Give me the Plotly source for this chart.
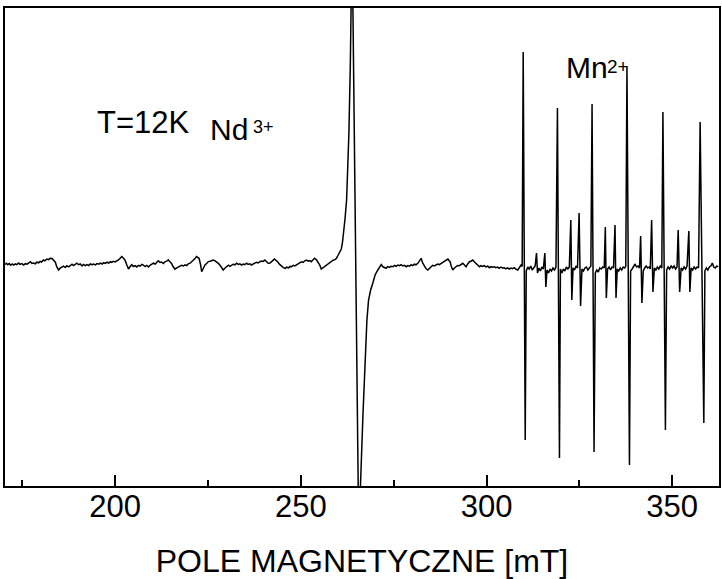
import plotly.graph_objects as go

# EPR spectrum at T = 12 K: field in mT, signal in arbitrary units (baseline ~ 0)

# low-field baseline up to the Nd3+ resonance
baseline_low = [
    (170.3, 0.5), (170.7, 1.7), (171.1, 0.3), (171.5, 1.5), (171.9, -0.3), (172.3, 1.0),
    (172.7, 0.0), (173.1, 1.2), (173.5, 0.4), (174.0, 1.9), (174.4, 0.6), (174.9, 1.4),
    (175.4, 0.0), (175.8, 1.3), (176.3, 0.8), (176.8, 2.6), (177.2, 3.3), (177.6, 1.6),
    (178.0, 2.0), (178.5, 1.2), (178.9, 2.8), (179.4, 2.2), (179.8, 3.6), (180.2, 3.0),
    (180.7, 5.0), (181.1, 4.2), (181.6, 6.0), (182.1, 5.4), (182.5, 6.8), (183.0, 6.5),
    (183.4, 4.5), (183.9, 2.8), (184.3, -2.0), (184.8, -5.0), (185.2, -3.2), (185.7, -2.4),
    (186.1, -1.2), (186.6, -2.5), (187.0, -0.8), (187.5, -1.8), (187.9, -0.5), (188.4, 0.8),
    (188.8, -0.6), (189.3, 1.4), (189.7, 1.9), (190.2, 0.3), (190.6, 1.0), (191.1, -0.9),
    (191.5, 0.5), (192.0, -0.6), (192.4, 0.4), (192.9, -0.5), (193.3, 1.0), (193.8, 0.2),
    (194.2, 0.9), (194.7, 0.1), (195.1, 1.4), (195.6, 0.8), (196.0, 1.9), (196.5, 1.0),
    (196.9, 2.3), (197.4, 1.6), (197.8, 2.8), (198.3, 2.0), (198.7, 3.3), (199.1, 2.6),
    (199.5, 3.6), (200.0, 3.0), (200.4, 4.4), (200.9, 5.2), (201.3, 6.5), (201.8, 8.5),
    (202.2, 7.0), (202.7, 4.6), (203.1, 0.5), (203.6, -4.0), (204.0, -1.8), (204.5, 0.3),
    (204.9, -1.5), (205.4, -0.6), (205.8, -1.9), (206.3, -0.4), (206.7, -1.2), (207.2, 0.6),
    (207.6, -0.2), (208.1, -1.5), (208.5, -0.5), (209.0, -1.9), (209.4, -0.3), (209.9, 0.6),
    (210.3, 1.8), (210.8, 1.0), (211.2, 3.0), (211.6, 4.2), (212.1, 2.6), (212.5, 2.9),
    (213.0, 1.5), (213.4, 3.2), (213.9, 3.8), (214.3, 5.2), (214.7, 3.5), (215.2, 1.5),
    (215.6, -1.5), (216.1, -4.2), (216.6, -2.8), (217.0, -2.0), (217.5, -1.5), (217.9, -0.4),
    (218.4, -1.0), (218.8, 0.2), (219.3, -0.5), (219.7, 1.2), (220.2, 1.8), (220.6, 3.0),
    (221.0, 5.0), (221.5, 6.4), (221.9, 8.4), (222.3, 7.8), (222.6, 6.7), (223.0, 0.5),
    (223.3, -6.7), (223.8, -3.0), (224.2, 0.0), (224.7, 1.8), (225.1, 3.4), (225.6, 3.8),
    (226.0, 4.4), (226.4, 5.0), (226.9, 4.2), (227.3, 3.3), (227.8, 1.6), (228.2, 0.0),
    (228.7, -2.8), (229.1, -5.0), (229.6, -3.0), (230.0, -1.7), (230.5, -0.2), (230.9, -1.4),
    (231.4, -0.6), (231.8, 0.8), (232.3, 0.2), (232.7, 1.8), (233.2, 0.6), (233.6, 1.2),
    (234.0, -0.1), (234.5, 1.0), (234.9, 0.4), (235.4, 1.8), (235.8, 0.6), (236.3, 1.1),
    (236.7, 0.0), (237.2, 1.3), (237.6, 1.9), (238.1, 2.7), (238.5, 2.0), (239.0, 3.3),
    (239.4, 4.0), (239.9, 3.6), (240.3, 5.0), (240.8, 3.2), (241.2, 1.7), (241.7, 2.0),
    (242.1, 3.0), (242.5, 4.6), (242.9, 6.0), (243.4, 4.8), (243.8, 3.0), (244.3, 0.6),
    (244.9, -1.8), (245.3, -2.6), (245.8, -3.4), (246.2, -2.2), (246.7, -2.9), (247.1, -1.4),
    (247.5, -1.7), (248.0, -0.4), (248.4, -1.0), (248.8, 0.2), (249.3, 1.0), (249.8, 2.4),
    (250.2, 3.2), (250.6, 2.6), (251.1, 4.2), (251.5, 5.0), (252.0, 3.8), (252.4, 4.4),
    (252.8, 3.3), (253.3, 5.0), (253.7, 6.8), (254.2, 5.2), (254.6, 3.3), (255.1, 0.0),
    (255.5, -4.0), (256.0, -2.6), (256.5, -1.2), (256.9, 0.0), (257.4, 0.6), (257.8, 1.7),
    (258.3, 3.0), (258.7, 4.8), (259.2, 5.4), (259.6, 6.8), (260.0, 9.5), (260.45, 13.3),
]

# Nd3+ derivative line (both lobes run off scale)
nd_line = [
    (260.9, 16.0), (261.2, 22.0), (261.52, 32.0), (261.9, 46.0), (262.33, 65.0),
    (262.65, 95.0), (262.95, 132.0), (263.32, 198.0), (263.81, 330.0), (265.69, -300.0),
    (266.09, -218.0), (266.71, -152.0), (267.35, -85.0), (267.8, -55.0), (268.24, -35.0),
    (268.8, -25.0), (269.4, -18.0), (270.0, -10.0), (270.74, -5.0), (271.2, -2.0),
    (271.65, 0.5),
]

# baseline between the Nd3+ line and the Mn2+ sextet
baseline_mid = [
    (272.1, -1.8), (272.5, -2.8), (273.0, -3.3), (273.4, -1.6), (273.9, -2.4), (274.3, -1.2),
    (274.8, -1.7), (275.2, -0.4), (275.7, -1.3), (276.1, 0.0), (276.6, -0.7), (277.0, 0.4),
    (277.5, -1.0), (277.9, -0.3), (278.4, -1.7), (278.8, -0.6), (279.3, -1.2), (279.7, 0.2),
    (280.1, -0.7), (280.6, 0.8), (281.0, 0.2), (281.5, 1.7), (281.9, 3.5), (282.4, 6.7),
    (282.8, 2.0), (283.3, -1.7), (283.7, -3.6), (284.2, -5.0), (284.6, -3.0), (285.1, -1.7),
    (285.5, -0.4), (286.0, -1.0), (286.4, 0.0), (286.9, 1.0), (287.3, 0.4), (287.8, 1.7),
    (288.2, 2.6), (288.7, 4.0), (289.1, 4.8), (289.6, 6.0), (289.9, 4.5), (290.2, 3.3),
    (290.5, -1.0), (290.9, -5.0), (291.3, -3.2), (291.8, -1.7), (292.2, -0.5), (292.7, -0.7),
    (293.1, 0.6), (293.6, 1.7), (294.0, 0.2), (294.5, -1.7), (294.9, 0.8), (295.4, 3.3),
    (295.8, 3.8), (296.3, 5.0), (296.7, 3.2), (297.2, 1.7), (297.6, 0.2), (298.1, -1.7),
    (298.5, -0.6), (298.9, -1.4), (299.4, -0.7), (299.8, -1.9), (300.3, -1.2), (300.8, -2.7),
    (301.2, -1.6), (301.6, -2.3), (302.1, -1.7), (302.5, -2.6), (303.0, -2.0), (303.4, -3.3),
    (303.9, -2.2), (304.3, -3.0), (304.8, -2.7), (305.2, -3.8), (305.7, -2.9), (306.1, -4.0),
    (306.6, -3.0), (307.0, -3.6), (307.5, -2.7), (307.9, -4.2), (308.4, -5.0), (308.8, -2.4),
    (309.3, 0.0), (309.6, -1.5),
]

# Mn2+ hyperfine sextet with the weak doublets between its lines
mn_region = [
    (309.88, 213.0), (310.42, -175.0), (310.7, -6.0), (311.1, -2.0), (311.5, -4.0),
    (311.9, -1.0), (312.3, -5.0), (312.7, -3.0), (313.1, -1.0),
    (313.46, 12.0), (313.73, -8.0), (314.1, -3.0), (314.5, -6.0), (314.9, -2.0), (315.3, -4.0),
    (315.71, 12.0), (315.98, -22.0), (316.3, -5.0), (316.7, -8.0), (317.1, -4.0), (317.5, -6.0),
    (317.9, -3.0), (318.3, -5.0), (318.7, -2.0),
    (319.10, 157.0), (319.64, -193.0), (319.9, -4.0), (320.3, -8.0), (320.7, -4.0),
    (321.1, -6.0), (321.5, -2.0), (321.9, -4.0), (322.3, -2.0),
    (322.70, 45.0), (322.97, -35.0), (323.3, -3.0), (323.7, -5.0), (324.1, -1.0), (324.5, -3.0),
    (324.93, 52.0), (325.33, -41.0), (325.7, -4.0), (326.1, -6.0), (326.5, -3.0), (326.9, -2.0),
    (327.3, -5.0), (327.7, -3.0), (328.1, -1.0),
    (328.42, 161.0), (328.96, -187.0), (329.3, -8.0), (329.7, -5.0), (330.1, -7.0),
    (330.5, -3.0), (330.9, -4.0), (331.3, -2.0), (331.7, -3.0),
    (331.99, 38.0), (332.26, -33.0), (332.6, -4.0), (333.0, -2.0), (333.4, -5.0), (333.8, -2.0),
    (334.2, -3.0), (334.60, 40.0), (334.87, -33.0), (335.2, -4.0), (335.6, -6.0), (336.0, -3.0),
    (336.4, -5.0), (336.8, -2.0), (337.2, -3.0), (337.5, -1.0),
    (337.82, 198.0), (338.49, -200.0), (338.8, -6.0), (339.2, -4.0), (339.6, -2.0),
    (340.0, 1.0), (340.4, -2.0), (340.8, -1.0), (341.2, -3.0),
    (341.50, 29.0), (341.85, -38.0), (342.2, -6.0), (342.6, -3.0), (343.0, -1.0), (343.4, -3.0),
    (343.8, -2.0), (344.1, -4.0), (344.46, 45.0), (344.81, -27.0), (345.2, -3.0), (345.6, -5.0),
    (346.0, -2.0), (346.4, -4.0), (346.8, -1.0), (347.2, -3.0),
    (347.50, 153.0), (348.17, -165.0), (348.5, -5.0), (348.9, -2.0), (349.3, -4.0),
    (349.7, -1.0), (350.1, -3.0), (350.5, -1.0), (350.9, -4.0), (351.3, -2.0),
    (351.61, 35.0), (352.01, -27.0), (352.4, -3.0), (352.8, -5.0), (353.2, -2.0), (353.6, -4.0),
    (354.0, -1.0), (354.48, 34.0), (354.75, -27.0), (355.1, -3.0), (355.5, -5.0), (355.9, -2.0),
    (356.3, -4.0), (356.7, -2.0), (357.1, -3.0),
    (357.52, 143.0), (358.51, -158.0), (358.8, -6.0), (359.2, -3.0), (359.6, -5.0),
    (360.0, -2.0), (360.4, -1.0), (360.8, 2.0), (361.2, -2.0), (361.6, -3.0), (362.0, -1.0),
    (362.4, -2.0),
]

major_ticks = [200, 250, 300, 350]
minor_ticks = [175, 225, 275, 325]
x_title = "POLE MAGNETYCZNE [mT]"
# (text, paper x of left edge, paper y of centre, font size)
labels = [
    ("T=12K", 0.126, 0.761, 31),
    ("Nd", 0.284, 0.745, 30),
    ("3+", 0.344, 0.752, 18),
    ("Mn", 0.783, 0.875, 30),
    ("2+", 0.841, 0.877, 19),
]

points = baseline_low + nd_line + baseline_mid + mn_region
field = [p[0] for p in points]
signal = [p[1] for p in points]

FONT = "Liberation Sans, Arial, sans-serif"

fig = go.Figure()
fig.add_trace(go.Scatter(
    x=field, y=signal, mode="lines",
    line=dict(color="black", width=1.5),
    hoverinfo="skip",
))

for text, xp, yp, size in labels:
    fig.add_annotation(
        text=text, x=xp, y=yp, xref="paper", yref="paper",
        xanchor="left", yanchor="middle", showarrow=False,
        font=dict(family=FONT, size=size, color="black"),
    )

fig.update_layout(
    width=722, height=579,
    margin=dict(l=5, r=1, t=8, b=93),
    paper_bgcolor="white", plot_bgcolor="white",
    showlegend=False,
    xaxis=dict(
        range=[170.35, 362.6],
        showline=True, linewidth=2, linecolor="black", mirror=True,
        ticks="inside", ticklen=11, tickwidth=2, tickcolor="black",
        tickvals=major_ticks, ticktext=[str(v) for v in major_ticks],
        tickfont=dict(family=FONT, size=31, color="black"),
        ticklabelstandoff=-8,
        showgrid=False, zeroline=False,
        minor=dict(tickvals=minor_ticks, ticks="inside", ticklen=6,
                   tickwidth=2, tickcolor="black", showgrid=False),
        title=dict(text=x_title, font=dict(family=FONT, size=32, color="black"),
                   standoff=26),
    ),
    yaxis=dict(
        range=[-221, 257],
        showline=True, linewidth=2, linecolor="black", mirror=True,
        ticks="", showticklabels=False, showgrid=False, zeroline=False,
    ),
)

fig.write_html("out.html")
